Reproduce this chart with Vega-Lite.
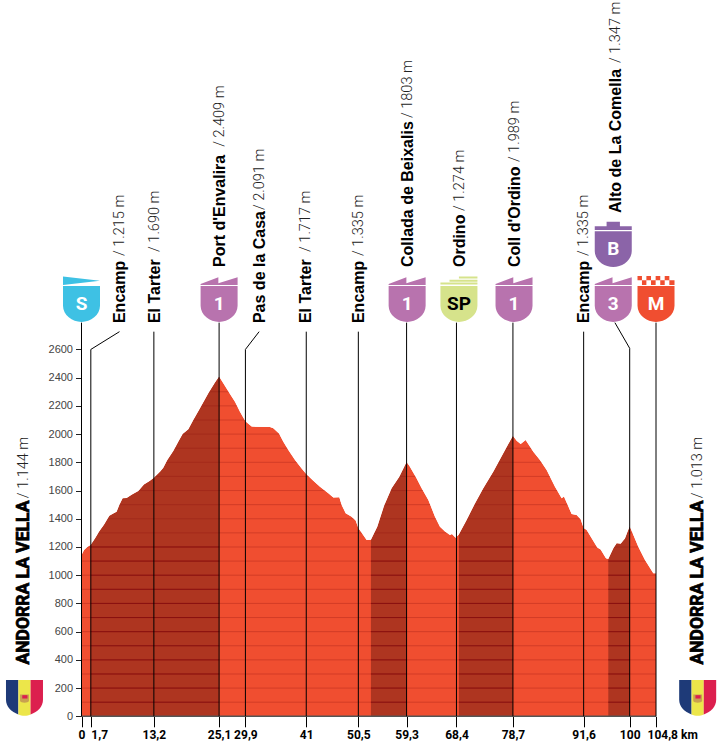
{"$schema":"https://vega.github.io/schema/vega-lite/v6.json","width":723,"height":750,"padding":0,"autosize":"none","background":"white","config":{"view":{"stroke":null},"axis":{"title":null,"grid":false}},
"datasets":{
"profile":[{"km":0,"m":1144},{"km":0.46,"m":1179},{"km":1.06,"m":1200},{"km":1.7,"m":1215,"climb":"a"},{"km":2.46,"m":1261,"climb":"a"},{"km":3.25,"m":1311,"climb":"a"},{"km":4.1,"m":1358,"climb":"a"},{"km":5.08,"m":1422,"climb":"a"},{"km":5.81,"m":1438,"climb":"a"},{"km":6.41,"m":1450,"climb":"a"},{"km":6.9,"m":1498,"climb":"a"},{"km":7.51,"m":1545,"climb":"a"},{"km":8.24,"m":1547,"climb":"a"},{"km":9.15,"m":1571,"climb":"a"},{"km":10.37,"m":1597,"climb":"a"},{"km":11.4,"m":1642,"climb":"a"},{"km":12.5,"m":1670,"climb":"a"},{"km":13.2,"m":1690,"climb":"a"},{"km":14.32,"m":1734,"climb":"a"},{"km":14.93,"m":1762,"climb":"a"},{"km":15.66,"m":1816,"climb":"a"},{"km":16.75,"m":1880,"climb":"a"},{"km":17.66,"m":1946,"climb":"a"},{"km":18.45,"m":2001,"climb":"a"},{"km":19.49,"m":2034,"climb":"a"},{"km":20.4,"m":2100,"climb":"a"},{"km":21.62,"m":2183,"climb":"a"},{"km":23.14,"m":2289,"climb":"a"},{"km":24.35,"m":2365,"climb":"a"},{"km":25.1,"m":2409,"climb":"a"},{"km":25.87,"m":2360},{"km":27.09,"m":2284},{"km":28.0,"m":2230},{"km":28.91,"m":2159},{"km":29.9,"m":2091},{"km":31.04,"m":2053},{"km":34.38,"m":2050},{"km":34.99,"m":2041},{"km":36.03,"m":2005},{"km":36.82,"m":1946},{"km":37.73,"m":1887},{"km":38.95,"m":1817},{"km":40.16,"m":1757},{"km":41.0,"m":1717},{"km":42.29,"m":1670},{"km":43.5,"m":1627},{"km":45.03,"m":1580},{"km":45.94,"m":1550},{"km":47.03,"m":1552},{"km":47.46,"m":1498},{"km":48.19,"m":1439},{"km":49.28,"m":1415},{"km":50.01,"m":1387},{"km":50.5,"m":1335},{"km":52.02,"m":1250},{"km":52.8,"m":1252,"climb":"b"},{"km":53.96,"m":1344,"climb":"b"},{"km":55.18,"m":1490,"climb":"b"},{"km":56.58,"m":1616,"climb":"b"},{"km":57.98,"m":1698,"climb":"b"},{"km":59.3,"m":1803,"climb":"b"},{"km":59.8,"m":1776},{"km":61.14,"m":1686},{"km":62.05,"m":1616},{"km":63.27,"m":1533},{"km":64.48,"m":1415},{"km":65.39,"m":1344},{"km":66.31,"m":1309},{"km":67.22,"m":1285},{"km":67.58,"m":1292},{"km":68.25,"m":1266},{"km":68.86,"m":1290,"climb":"c"},{"km":70.26,"m":1391,"climb":"c"},{"km":71.78,"m":1509,"climb":"c"},{"km":73.3,"m":1616,"climb":"c"},{"km":75.12,"m":1734,"climb":"c"},{"km":76.95,"m":1864,"climb":"c"},{"km":78.7,"m":1989,"climb":"c"},{"km":79.38,"m":1953},{"km":80.11,"m":1930},{"km":81.02,"m":1958},{"km":82.42,"m":1875},{"km":83.63,"m":1816},{"km":84.85,"m":1746},{"km":86.37,"m":1627},{"km":87.59,"m":1545},{"km":88.01,"m":1557},{"km":89.41,"m":1434},{"km":90.32,"m":1427},{"km":91.05,"m":1396},{"km":91.6,"m":1335},{"km":92.15,"m":1320},{"km":94.09,"m":1197},{"km":94.7,"m":1183},{"km":95.67,"m":1120},{"km":96.1,"m":1115,"climb":"d"},{"km":97.0,"m":1190,"climb":"d"},{"km":97.62,"m":1226,"climb":"d"},{"km":98.35,"m":1223,"climb":"d"},{"km":99.14,"m":1261,"climb":"d"},{"km":100,"m":1347,"climb":"d"},{"km":101.57,"m":1202},{"km":102.79,"m":1108},{"km":104.31,"m":1013},{"km":104.8,"m":1013}],
"stages":[{"km":1.7,"labelKm":6.93,"name":"Encamp","elev":"/ 1.215 m","tier":1,"reach":"leader"},{"km":13.2,"labelKm":13.2,"name":"El Tarter","elev":"/ 1.690 m","tier":1,"reach":"label"},{"km":25.1,"labelKm":25.1,"name":"Port d'Envalira","elev":"/ 2.409 m","tier":2,"reach":"shield"},{"km":29.9,"labelKm":32.4,"name":"Pas de la Casa","elev":"/ 2.091 m","tier":1,"reach":"leader"},{"km":41,"labelKm":40.8,"name":"El Tarter","elev":"/ 1.717 m","tier":1,"reach":"label"},{"km":50.5,"labelKm":50.44,"name":"Encamp","elev":"/ 1.335 m","tier":1,"reach":"label"},{"km":59.3,"labelKm":59.4,"name":"Collada de Beixalis","elev":"/ 1803 m","tier":2,"reach":"shield"},{"km":68.4,"labelKm":68.86,"name":"Ordino","elev":"/ 1.274 m","tier":2,"reach":"shield"},{"km":78.7,"labelKm":78.9,"name":"Coll d'Ordino","elev":"/ 1.989 m","tier":2,"reach":"shield"},{"km":91.6,"labelKm":91.5,"name":"Encamp","elev":"/ 1.335 m","tier":1,"reach":"label"},{"km":100,"labelKm":97.3,"name":"Alto de La Comella","elev":"/ 1.347 m","tier":3,"reach":"high"}],
"ends":[{"km":0,"textKm":-10.4,"name":"ANDORRA LA VELLA","elev":"/ 1.144 m"},{"km":104.8,"textKm":112.4,"name":"ANDORRA LA VELLA","elev":"/ 1.013 m"}],
"markers":[{"km":0,"type":"S","sign":"S"},{"km":25.1,"type":"1","sign":"1"},{"km":59.4,"type":"1","sign":"1"},{"km":68.85,"type":"SP","sign":"SP"},{"km":78.9,"type":"1","sign":"1"},{"km":97,"type":"3","sign":"3"},{"km":97,"type":"B","sign":"B"},{"km":104.8,"type":"M","sign":"M"},{"km":-10.4,"type":"flagBlue"},{"km":-10.4,"type":"flagYellow"},{"km":-10.4,"type":"flagRed"},{"km":-10.4,"type":"arms"},{"km":-10.4,"type":"armsRed"},{"km":112.4,"type":"flagBlue"},{"km":112.4,"type":"flagYellow"},{"km":112.4,"type":"flagRed"},{"km":112.4,"type":"arms"},{"km":112.4,"type":"armsRed"}],
"grid":[{"level":100},{"level":200},{"level":300},{"level":400},{"level":500},{"level":600},{"level":700},{"level":800},{"level":900},{"level":1000},{"level":1100},{"level":1200},{"level":1300},{"level":1400},{"level":1500},{"level":1600},{"level":1700},{"level":1800},{"level":1900},{"level":2000},{"level":2100},{"level":2200},{"level":2300},{"level":2400}],
"climbs":[{"level":[100,200,300,400,500,600,700,800,900,1000,1100,1200],"from":[1.7,52.8,68.86],"to":[25.1,59.3,78.7]},{"level":[100,200,300,400,500,600,700,800,900,1000,1100],"from":[96.1],"to":[100]}]
},
"layer":[
{"data":{"name":"profile"},"mark":{"type":"area","color":"#F04E30","interpolate":"linear"},"encoding":{
"x":{"field":"km","type":"quantitative","scale":{"domain":[-14.867,117.02],"nice":false,"zero":false},"axis":{"orient":"bottom","offset":-33.7,"domain":false,"values":[0,1.7,13.2,25.1,29.9,41,50.5,59.3,68.4,78.7,91.6,100,104.8],"tickSize":10.5,"tickColor":"#000","tickWidth":1,"labelOverlap":false,"labelBound":false,"labelFlush":false,"labelFont":"Roboto","labelFontWeight":"bold","labelFontSize":12,"labelColor":"#000","labelPadding":3,"labelExpr":"replace(datum.value+'','.',',')+(datum.value>104?' km':'')","labelAlign":{"condition":{"test":"datum.value>104||datum.value===1.7","value":"left"},"value":"center"},"labelOffset":{"condition":{"test":"datum.value>104","value":-9},"value":0},"title":null}},
"y":{"field":"m","type":"quantitative","stack":null,"scale":{"domain":[-238.8,5076.5],"nice":false,"zero":false},"axis":{"orient":"left","offset":-81.5,"domain":false,"values":[0,100,200,300,400,500,600,700,800,900,1000,1100,1200,1300,1400,1500,1600,1700,1800,1900,2000,2100,2200,2300,2400,2500,2600],"tickSize":6,"tickColor":"#222","tickWidth":1,"labelOverlap":false,"labelBound":false,"labelFont":"Liberation Sans","labelFontSize":11,"labelColor":"#444","labelPadding":3,"labelExpr":"datum.value%200==0?datum.value:''","title":null}}}},
{"data":{"name":"profile"},"mark":{"type":"area","color":"#AE3520"},"encoding":{"x":{"field":"km","type":"quantitative"},"y":{"field":"m","type":"quantitative","stack":null}},"layer":[
{"transform":[{"filter":"datum.climb==='a'"}],"mark":{"type":"area","color":"#AE3520"}},
{"transform":[{"filter":"datum.climb==='b'"}],"mark":{"type":"area","color":"#AE3520"}},
{"transform":[{"filter":"datum.climb==='c'"}],"mark":{"type":"area","color":"#AE3520"}},
{"transform":[{"filter":"datum.climb==='d'"}],"mark":{"type":"area","color":"#AE3520"}}
]},
{"data":{"name":"grid"},"mark":{"type":"rule","color":"#8A1010","opacity":0.28,"strokeWidth":1},"encoding":{"y":{"field":"level","type":"quantitative"},"x":{"datum":0,"type":"quantitative"},"x2":{"datum":104.8}}},
{"data":{"name":"profile"},"mark":{"type":"area","color":"white"},"encoding":{"x":{"field":"km","type":"quantitative"},"y":{"field":"m","type":"quantitative","stack":null},"y2":{"datum":2700}}},
{"data":{"name":"climbs"},"transform":[{"flatten":["from","to"]},{"flatten":["level"]}],"mark":{"type":"rule","color":"#8A1010","strokeWidth":1},"encoding":{"y":{"field":"level","type":"quantitative"},"x":{"field":"from","type":"quantitative"},"x2":{"field":"to"}}},
{"data":{"values":[{"from":0,"to":104.8,"level":0}]},"mark":{"type":"rule","color":"#555","strokeWidth":1.5},"encoding":{"y":{"field":"level","type":"quantitative"},"x":{"field":"from","type":"quantitative"},"x2":{"field":"to"}}},
{"data":{"name":"stages"},"layer":[
{"transform":[{"filter":"datum.reach==='label'"}],"mark":{"type":"rule","color":"#000","strokeWidth":1},"encoding":{"x":{"field":"km","type":"quantitative"},"y":{"datum":0,"type":"quantitative"},"y2":{"datum":2726}}},
{"transform":[{"filter":"datum.reach==='shield'"}],"mark":{"type":"rule","color":"#000","strokeWidth":1},"encoding":{"x":{"field":"km","type":"quantitative"},"y":{"datum":0,"type":"quantitative"},"y2":{"datum":2790}}},
{"transform":[{"filter":"datum.reach==='leader'"}],"layer":[
{"mark":{"type":"rule","color":"#000","strokeWidth":1},"encoding":{"x":{"field":"km","type":"quantitative"},"y":{"datum":0,"type":"quantitative"},"y2":{"datum":2600}}},
{"mark":{"type":"rule","color":"#000","strokeWidth":1},"encoding":{"x":{"field":"km","type":"quantitative"},"x2":{"field":"labelKm"},"y":{"datum":2600,"type":"quantitative"},"y2":{"datum":2726}}}]},
{"transform":[{"filter":"datum.reach==='high'"}],"layer":[
{"mark":{"type":"rule","color":"#000","strokeWidth":1},"encoding":{"x":{"field":"km","type":"quantitative"},"y":{"datum":0,"type":"quantitative"},"y2":{"datum":2608}}},
{"mark":{"type":"rule","color":"#000","strokeWidth":1},"encoding":{"x":{"field":"km","type":"quantitative"},"x2":{"field":"labelKm"},"y":{"datum":2608,"type":"quantitative"},"y2":{"datum":2790}}}]},
{"mark":{"type":"text","angle":270,"align":"left","baseline":"middle","dy":1,"font":"Liberation Sans","fontWeight":"bold","fontSize":16,"color":"#000"},"encoding":{"x":{"field":"labelKm","type":"quantitative"},"text":{"field":"name"},"y":{"datum":2787,"type":"quantitative"}},"transform":[{"filter":"datum.tier===1"}]},
{"mark":{"type":"text","angle":270,"align":"left","baseline":"middle","dy":1,"font":"Liberation Sans","fontWeight":"bold","fontSize":16,"color":"#000"},"encoding":{"x":{"field":"labelKm","type":"quantitative"},"text":{"field":"name"},"y":{"datum":3184,"type":"quantitative"}},"transform":[{"filter":"datum.tier===2"}]},
{"mark":{"type":"text","angle":270,"align":"left","baseline":"middle","dy":1,"font":"Liberation Sans","fontWeight":"bold","fontSize":16,"color":"#000"},"encoding":{"x":{"field":"labelKm","type":"quantitative"},"text":{"field":"name"},"y":{"datum":3567,"type":"quantitative"}},"transform":[{"filter":"datum.tier===3"}]},
{"encoding":{"x":{"field":"labelKm","type":"quantitative"},"text":{"field":"elev"}},"mark":{"type":"text","angle":270,"align":"left","baseline":"middle","dy":1,"font":"Roboto","fontWeight":300,"fontSize":14.5,"color":"#222"},"layer":[
{"transform":[{"filter":"datum.name==='Encamp'"}],"encoding":{"y":{"datum":3262,"type":"quantitative"}},"mark":{"type":"text","angle":270,"align":"left","baseline":"middle","dy":1,"font":"Roboto","fontWeight":300,"fontSize":14.5,"color":"#222"}},
{"transform":[{"filter":"datum.name==='El Tarter'"}],"encoding":{"y":{"datum":3291,"type":"quantitative"}},"mark":{"type":"text","angle":270,"align":"left","baseline":"middle","dy":1,"font":"Roboto","fontWeight":300,"fontSize":14.5,"color":"#222"}},
{"transform":[{"filter":"datum.name==='Port d\\'Envalira'"}],"encoding":{"y":{"datum":4036,"type":"quantitative"}},"mark":{"type":"text","angle":270,"align":"left","baseline":"middle","dy":1,"font":"Roboto","fontWeight":300,"fontSize":14.5,"color":"#222"}},
{"transform":[{"filter":"datum.name==='Pas de la Casa'"}],"encoding":{"y":{"datum":3588,"type":"quantitative"}},"mark":{"type":"text","angle":270,"align":"left","baseline":"middle","dy":1,"font":"Roboto","fontWeight":300,"fontSize":14.5,"color":"#222"}},
{"transform":[{"filter":"datum.name==='Collada de Beixalis'"}],"encoding":{"y":{"datum":4240,"type":"quantitative"}},"mark":{"type":"text","angle":270,"align":"left","baseline":"middle","dy":1,"font":"Roboto","fontWeight":300,"fontSize":14.5,"color":"#222"}},
{"transform":[{"filter":"datum.name==='Ordino'"}],"encoding":{"y":{"datum":3581,"type":"quantitative"}},"mark":{"type":"text","angle":270,"align":"left","baseline":"middle","dy":1,"font":"Roboto","fontWeight":300,"fontSize":14.5,"color":"#222"}},
{"transform":[{"filter":"datum.name==='Coll d\\'Ordino'"}],"encoding":{"y":{"datum":3928,"type":"quantitative"}},"mark":{"type":"text","angle":270,"align":"left","baseline":"middle","dy":1,"font":"Roboto","fontWeight":300,"fontSize":14.5,"color":"#222"}},
{"transform":[{"filter":"datum.name==='Alto de La Comella'"}],"encoding":{"y":{"datum":4630,"type":"quantitative"}},"mark":{"type":"text","angle":270,"align":"left","baseline":"middle","dy":1,"font":"Roboto","fontWeight":300,"fontSize":14.5,"color":"#222"}}
]}
]},
{"data":{"name":"ends"},"layer":[
{"mark":{"type":"rule","color":"#000","strokeWidth":1},"encoding":{"x":{"field":"km","type":"quantitative"},"y":{"datum":0,"type":"quantitative"},"y2":{"datum":2790}}},
{"mark":{"type":"text","angle":270,"align":"left","baseline":"middle","font":"Roboto","fontWeight":"bold","fontSize":17.5,"color":"#000","stroke":"#000","strokeWidth":0.7},"encoding":{"x":{"field":"textKm","type":"quantitative"},"y":{"datum":367,"type":"quantitative"},"text":{"field":"name"}}},
{"mark":{"type":"text","angle":270,"align":"left","baseline":"middle","font":"Roboto","fontWeight":300,"fontSize":14.5,"color":"#222"},"encoding":{"x":{"field":"textKm","type":"quantitative"},"y":{"datum":1546,"type":"quantitative"},"text":{"field":"elev"}}}
]},
{"data":{"name":"markers"},"encoding":{"x":{"field":"km","type":"quantitative"},"shape":{"field":"type","type":"nominal","legend":null,"scale":{"domain":["S","1","3","SP","M","B","flagBlue","flagYellow","flagRed","arms","armsRed"],"range":[
"M-1,-0.97L1,-0.97L1,0.1C1,0.6 0.5,0.97 0,0.97C-0.5,0.97 -1,0.6 -1,0.1ZM-1,-1.48L1,-1.26L-1,-1.03Z",
"M-1,-0.97L1,-0.97L1,0.1C1,0.6 0.5,0.97 0,0.97C-0.5,0.97 -1,0.6 -1,0.1ZM-1,-1.08L-0.04,-1.44L-0.04,-1.12L1,-1.44L1,-1.03L-1,-1.03Z",
"M-1,-0.97L1,-0.97L1,0.1C1,0.6 0.5,0.97 0,0.97C-0.5,0.97 -1,0.6 -1,0.1ZM-1,-1.08L-0.04,-1.44L-0.04,-1.12L1,-1.44L1,-1.03L-1,-1.03Z",
"M-1,-0.97L1,-0.97L1,0.1C1,0.6 0.5,0.97 0,0.97C-0.5,0.97 -1,0.6 -1,0.1ZM0,-1.49L1,-1.49L1,-1.38L0,-1.38ZM-0.51,-1.31L1,-1.31L1,-1.2L-0.51,-1.2ZM-1,-1.16L1,-1.16L1,-1.05L-1,-1.05Z",
"M-1,-0.97L1,-0.97L1,0.1C1,0.6 0.5,0.97 0,0.97C-0.5,0.97 -1,0.6 -1,0.1ZM-1,-1.51L-0.76,-1.51L-0.76,-1.28L-1,-1.28ZM-0.52,-1.51L-0.27,-1.51L-0.27,-1.28L-0.52,-1.28ZM-0.02,-1.51L0.23,-1.51L0.23,-1.28L-0.02,-1.28ZM0.47,-1.51L0.72,-1.51L0.72,-1.28L0.47,-1.28ZM-0.76,-1.28L-0.52,-1.28L-0.52,-1.03L-0.76,-1.03ZM-0.27,-1.28L-0.02,-1.28L-0.02,-1.03L-0.27,-1.03ZM0.23,-1.28L0.47,-1.28L0.47,-1.03L0.23,-1.03ZM0.72,-1.28L1,-1.28L1,-1.03L0.72,-1.03Z",
"M-1,-0.97L1,-0.97L1,0.1C1,0.6 0.5,0.97 0,0.97C-0.5,0.97 -1,0.6 -1,0.1ZM-1,-1.03L-1,-1.24L-0.36,-1.24L-0.36,-1.48L0.36,-1.48L0.36,-1.24L1,-1.24L1,-1.03Z",
"M-1,-1L-0.33,-1L-0.33,0.86C-0.72,0.7 -1,0.45 -1,0.05Z",
"M-0.33,-1L0.33,-1L0.33,0.86C0.15,0.96 -0.15,0.96 -0.33,0.86Z",
"M0.33,-1L1,-1L1,0.05C1,0.45 0.72,0.7 0.33,0.86Z",
"M-0.24,-0.22L0.24,-0.22L0.24,0.14C0.2,0.26 -0.2,0.26 -0.24,0.14Z",
"M-0.12,-0.18L0.16,-0.18L0.16,0L-0.12,0Z"]}},
"color":{"field":"type","type":"nominal","legend":null,"scale":{"domain":["S","1","3","SP","M","B","flagBlue","flagYellow","flagRed","arms","armsRed"],"range":["#3EC1E4","#B873AE","#B873AE","#D6E38B","#F04E30","#8B64A8","#1E3A78","#ECE64A","#DC1F4E","#C9A050","#DC1F4E"]}}},"layer":[
{"transform":[{"filter":"datum.sign&&datum.type!=='B'"}],"mark":{"type":"point","filled":true,"opacity":1,"size":1369,"strokeWidth":0},"encoding":{"y":{"datum":2922,"type":"quantitative"}}},
{"transform":[{"filter":"datum.type==='B'"}],"mark":{"type":"point","filled":true,"opacity":1,"size":1369,"strokeWidth":0},"encoding":{"y":{"datum":3311,"type":"quantitative"}}},
{"transform":[{"filter":"!datum.sign"}],"mark":{"type":"point","filled":true,"opacity":1,"size":1369,"strokeWidth":0},"encoding":{"y":{"datum":126,"type":"quantitative"}}}
]},
{"data":{"name":"markers"},"layer":[
{"transform":[{"filter":"datum.sign&&datum.type!=='B'&&datum.type!=='SP'"}],"mark":{"type":"text","font":"Roboto","fontWeight":"bold","fontSize":19,"color":"white","baseline":"middle"},"encoding":{"x":{"field":"km","type":"quantitative"},"y":{"datum":2925,"type":"quantitative"},"text":{"field":"sign"}}},
{"transform":[{"filter":"datum.type==='B'"}],"mark":{"type":"text","font":"Roboto","fontWeight":"bold","fontSize":19,"color":"white","baseline":"middle"},"encoding":{"x":{"field":"km","type":"quantitative"},"y":{"datum":3314,"type":"quantitative"},"text":{"field":"sign"}}},
{"transform":[{"filter":"datum.type==='SP'"}],"mark":{"type":"text","font":"Roboto","fontWeight":"bold","fontSize":19,"color":"#000","baseline":"middle"},"encoding":{"x":{"field":"km","type":"quantitative"},"y":{"datum":2925,"type":"quantitative"},"text":{"field":"sign"}}}
]}
]}
